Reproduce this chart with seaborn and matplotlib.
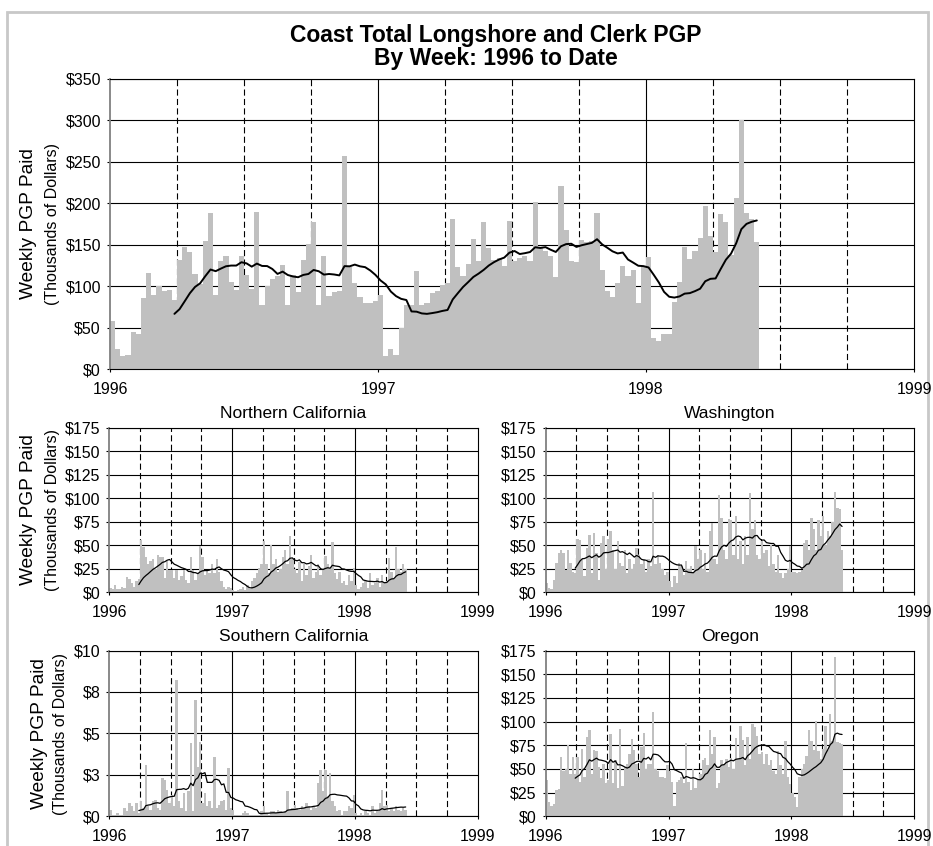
import numpy as np
import pandas as pd
import matplotlib
matplotlib.use("Agg")
import matplotlib.pyplot as plt
from matplotlib.patches import Rectangle
import seaborn as sns

# weekly PGP paid (thousands of dollars), one value per week from the start of 1996
coast_total = [
    58, 24, 16, 17, 45, 43, 86, 116, 90, 100, 94, 96, 84,
    132, 148, 142, 115, 103, 155, 189, 90, 130, 137, 105, 96, 136,
    114, 97, 190, 78, 101, 109, 112, 126, 77, 114, 93, 132, 151,
    177, 77, 137, 88, 93, 95, 257, 123, 104, 87, 80, 80, 82, 89,
    16, 24, 17, 50, 77, 78, 119, 77, 80, 92, 94, 102, 104,
    181, 123, 113, 127, 157, 130, 178, 146, 132, 134, 124, 179,
    130, 134, 136, 131, 202, 146, 143, 137, 111, 221,
    168, 130, 129, 156, 153, 155, 188, 120, 94, 87, 104, 125, 112, 120, 80, 123,
    135, 38, 34, 42, 43, 81, 105, 148, 133, 143, 158, 197, 161, 141, 187, 178,
    138, 206, 301, 188, 181, 154,
]

northern_california = [
    5, 4, 8, 4, 3, 6, 5, 16, 14, 10, 6, 12, 14,
    56, 48, 38, 30, 33, 35, 25, 40, 38, 38, 15, 33, 24,
    24, 15, 24, 13, 17, 24, 13, 10, 37, 24, 13, 20, 49,
    38, 18, 24, 20, 30, 20, 35, 22, 12, 6, 4, 6, 5,
    2, 1, 2, 4, 6, 2, 8, 4, 12, 15, 20, 26, 30,
    55, 30, 20, 50, 30, 35, 22, 25, 38, 45, 30, 60, 35,
    25, 20, 32, 12, 30, 18, 28, 40, 15, 22, 30, 18, 25,
    39, 30, 26, 53, 20, 14, 22, 10, 12, 8, 18, 12, 26,
    8, 4, 6, 10, 12, 5, 20, 8, 10, 15, 6, 18, 10,
    12, 36, 22, 14, 48, 25, 22, 30, 25,
]

washington = [
    10, 5, 3, 13, 31, 42, 45, 42, 24, 45, 31, 22, 20,
    57, 56, 35, 17, 47, 61, 21, 63, 42, 13, 52, 60, 25,
    57, 65, 45, 25, 55, 31, 28, 45, 20, 35, 25, 30, 47,
    40, 30, 35, 22, 35, 28, 106, 30, 40, 31, 25, 18, 22,
    12, 6, 17, 10, 31, 28, 18, 33, 25, 28, 22, 49, 35,
    45, 25, 42, 22, 65, 74, 35, 30, 103, 79, 45, 35, 78,
    77, 40, 81, 35, 55, 30, 60, 40, 105, 67, 77, 40, 35,
    55, 42, 45, 28, 50, 30, 22, 40, 20, 15, 20, 25, 49,
    22, 22, 20, 22, 24, 52, 56, 45, 79, 67, 45, 77, 60,
    81, 50, 65, 60, 75, 106, 90, 88, 45,
]

southern_california = [
    0.4, 0.1, 0.1, 0.2, 0.1, 0.1, 0.5, 0.3, 0.8, 0.6, 0.3, 0.8, 0.2,
    0.9, 0.5, 3.1, 0.6, 0.4, 0.9, 1.0, 0.5, 0.4, 2.3, 2.2, 1.6, 0.8,
    1.3, 0.6, 8.2, 0.9, 0.5, 1.4, 0.3, 1.5, 4.4, 0.3, 7.0, 3.0, 4.5,
    0.8, 1.4, 0.6, 0.9, 0.5, 3.6, 0.5, 0.7, 0.9, 1.0, 0.4, 2.9, 0.5,
    0.4, 0.1, 0.05, 0.1, 0.2, 0.3, 0.2, 0.1, 0.1, 0.05, 0.1, 0.1, 0.3,
    0.6, 0.2, 0.1, 0.3, 0.3, 0.2, 0.4, 0.3, 0.2, 0.3, 1.5, 0.4, 0.5,
    0.7, 0.5, 0.4, 0.6, 0.5, 0.8, 0.6, 0.4, 0.6, 0.5, 2.0, 2.8, 1.5,
    2.8, 1.2, 2.6, 0.9, 0.6, 0.3, 0.4, 0.1, 0.3, 0.3, 0.6, 0.5, 1.3,
    0.2, 0.1, 0.2, 0.1, 0.3, 0.2, 0.1, 0.6, 0.2, 0.3, 0.8, 1.6, 0.6,
    0.7, 0.3, 0.5, 0.3, 0.6, 0.4, 0.3, 0.5, 0.4,
]

oregon = [
    38, 15, 11, 13, 28, 29, 63, 48, 50, 75, 45, 63, 45,
    63, 36, 71, 41, 84, 91, 45, 70, 69, 52, 40, 55, 35,
    38, 87, 35, 59, 30, 92, 32, 52, 55, 66, 82, 70, 55,
    41, 73, 88, 50, 55, 55, 110, 50, 48, 41, 42, 40, 54,
    48, 36, 11, 36, 38, 41, 35, 77, 36, 28, 50, 30, 38,
    45, 59, 62, 54, 91, 66, 84, 30, 35, 59, 55, 61, 52,
    62, 50, 83, 60, 95, 81, 54, 84, 60, 97, 94, 85, 66,
    68, 55, 66, 54, 59, 48, 45, 69, 54, 45, 80, 41, 34,
    25, 20, 10, 41, 50, 55, 64, 91, 80, 70, 101, 69, 60,
    71, 95, 70, 108, 80, 168, 78, 77, 76,
]

years = [1996, 1997, 1998, 1999]
year_labels = ["1996", "1997", "1998", "1999"]
top_ticks = [0, 50, 100, 150, 200, 250, 300, 350]
top_tick_labels = ["$0", "$50", "$100", "$150", "$200", "$250", "$300", "$350"]
region_ticks = [0, 25, 50, 75, 100, 125, 150, 175]
region_tick_labels = ["$0", "$25", "$50", "$75", "$100", "$125", "$150", "$175"]
socal_ticks = [0, 2.5, 5, 7.5, 10]
socal_tick_labels = ["$0", "$3", "$5", "$8", "$10"]

sns.set_style("white")
plt.rcParams["font.family"] = ["Liberation Sans", "DejaVu Sans"]
plt.rcParams["text.color"] = "black"
plt.rcParams["xtick.color"] = "black"
plt.rcParams["ytick.color"] = "black"

W, H = 933, 846
fig = plt.figure(figsize=(W / 100, H / 100), dpi=100)

n_weeks = len(coast_total)
edges = 1996 + np.arange(n_weeks + 1) / 52
mid = (edges[:-1] + edges[1:]) / 2


def add_ax(l, t, r, b):
    # pixel box -> figure fraction
    return fig.add_axes([l / W, 1 - b / H, (r - l) / W, (b - t) / H])


def panel(ax, values, ticks, tick_labels, line_w):
    df = pd.DataFrame({"week": mid, "paid": values})
    df["avg"] = df["paid"].rolling(13).mean()

    # quarter lines dashed, year lines solid
    for q in np.arange(1996.25, 1999, 0.25):
        solid = abs(q - round(q)) < 1e-9
        ax.axvline(q, color="black", lw=0.8,
                   ls="-" if solid else (0, (5.5, 3)), zorder=0.5)

    sns.histplot(data=df, x="week", weights="paid", bins=n_weeks,
                 binrange=(edges[0], edges[-1]),
                 color="#c0c0c0", alpha=1, linewidth=0,
                 antialiased=False, ax=ax)
    sns.lineplot(data=df.dropna(), x="week", y="avg", color="black",
                 lw=line_w, ax=ax, zorder=3)

    ax.set_xlim(1996, 1999)
    ax.set_ylim(0, ticks[-1])
    ax.set_xticks(years)
    ax.set_xticklabels(year_labels)
    ax.set_yticks(ticks)
    ax.set_yticklabels(tick_labels)
    ax.grid(axis="y", color="black", lw=0.8)
    ax.grid(axis="x", visible=False)
    ax.set_axisbelow(True)
    ax.set_xlabel("")
    ax.set_ylabel("")
    ax.tick_params(axis="both", direction="out", length=2.5, width=0.8,
                   labelsize=11.5, color="black", labelcolor="black",
                   bottom=True, left=True)
    ax.tick_params(axis="x", pad=7)
    ax.tick_params(axis="y", pad=4)
    for side in ["top", "right", "bottom"]:
        ax.spines[side].set_visible(True)
        ax.spines[side].set_color("black")
        ax.spines[side].set_linewidth(0.8)
    ax.spines["left"].set_color("#808080")
    ax.spines["left"].set_linewidth(1.3)


ax_top = add_ax(110, 79, 914, 369.3)
panel(ax_top, coast_total, top_ticks, top_tick_labels, 1.4)

ax_nc = add_ax(109.3, 427.5, 477.7, 592.3)
panel(ax_nc, northern_california, region_ticks, region_tick_labels, 0.9)
ax_nc.set_title("Northern California", fontsize=12.5, pad=6.5, color="black")

ax_wa = add_ax(545.7, 427.5, 914.1, 592.3)
panel(ax_wa, washington, region_ticks, region_tick_labels, 0.9)
ax_wa.set_title("Washington", fontsize=12.5, pad=6.5, color="black")

ax_sc = add_ax(109.3, 650.5, 477.7, 816.3)
panel(ax_sc, southern_california, socal_ticks, socal_tick_labels, 0.9)
ax_sc.set_title("Southern California", fontsize=12.5, pad=6.5, color="black")

ax_or = add_ax(545.7, 650.5, 914.1, 816.3)
panel(ax_or, oregon, region_ticks, region_tick_labels, 0.9)
ax_or.set_title("Oregon", fontsize=12.5, pad=6.5, color="black")

fig.text(496 / W, 1 - 41.7 / H, "Coast Total Longshore and Clerk PGP",
         ha="center", va="baseline", fontsize=16.5, fontweight="bold")
fig.text(496 / W, 1 - 65 / H, "By Week: 1996 to Date",
         ha="center", va="baseline", fontsize=16.5, fontweight="bold")

# y labels: main panel, the two region panels with wide ticks, then Southern California
for x1, x2, yc in [(29, 53, 224), (29, 53, 510), (40, 61, 733.5)]:
    fig.text(x1 / W, 1 - yc / H, "Weekly PGP Paid", rotation=90,
             ha="center", va="center", fontsize=13.8)
    fig.text(x2 / W, 1 - yc / H, "(Thousands of Dollars)", rotation=90,
             ha="center", va="center", fontsize=11.5)

# light grey frame round the page, kept behind the texts
fig.add_artist(Rectangle((6.5 / W, -0.1), (928 - 6.5) / W, 1.1 - 12.5 / H,
                         transform=fig.transFigure, fill=False,
                         edgecolor="#c8c8c8", lw=2, zorder=-1))

fig.savefig("out.png", dpi=100)
